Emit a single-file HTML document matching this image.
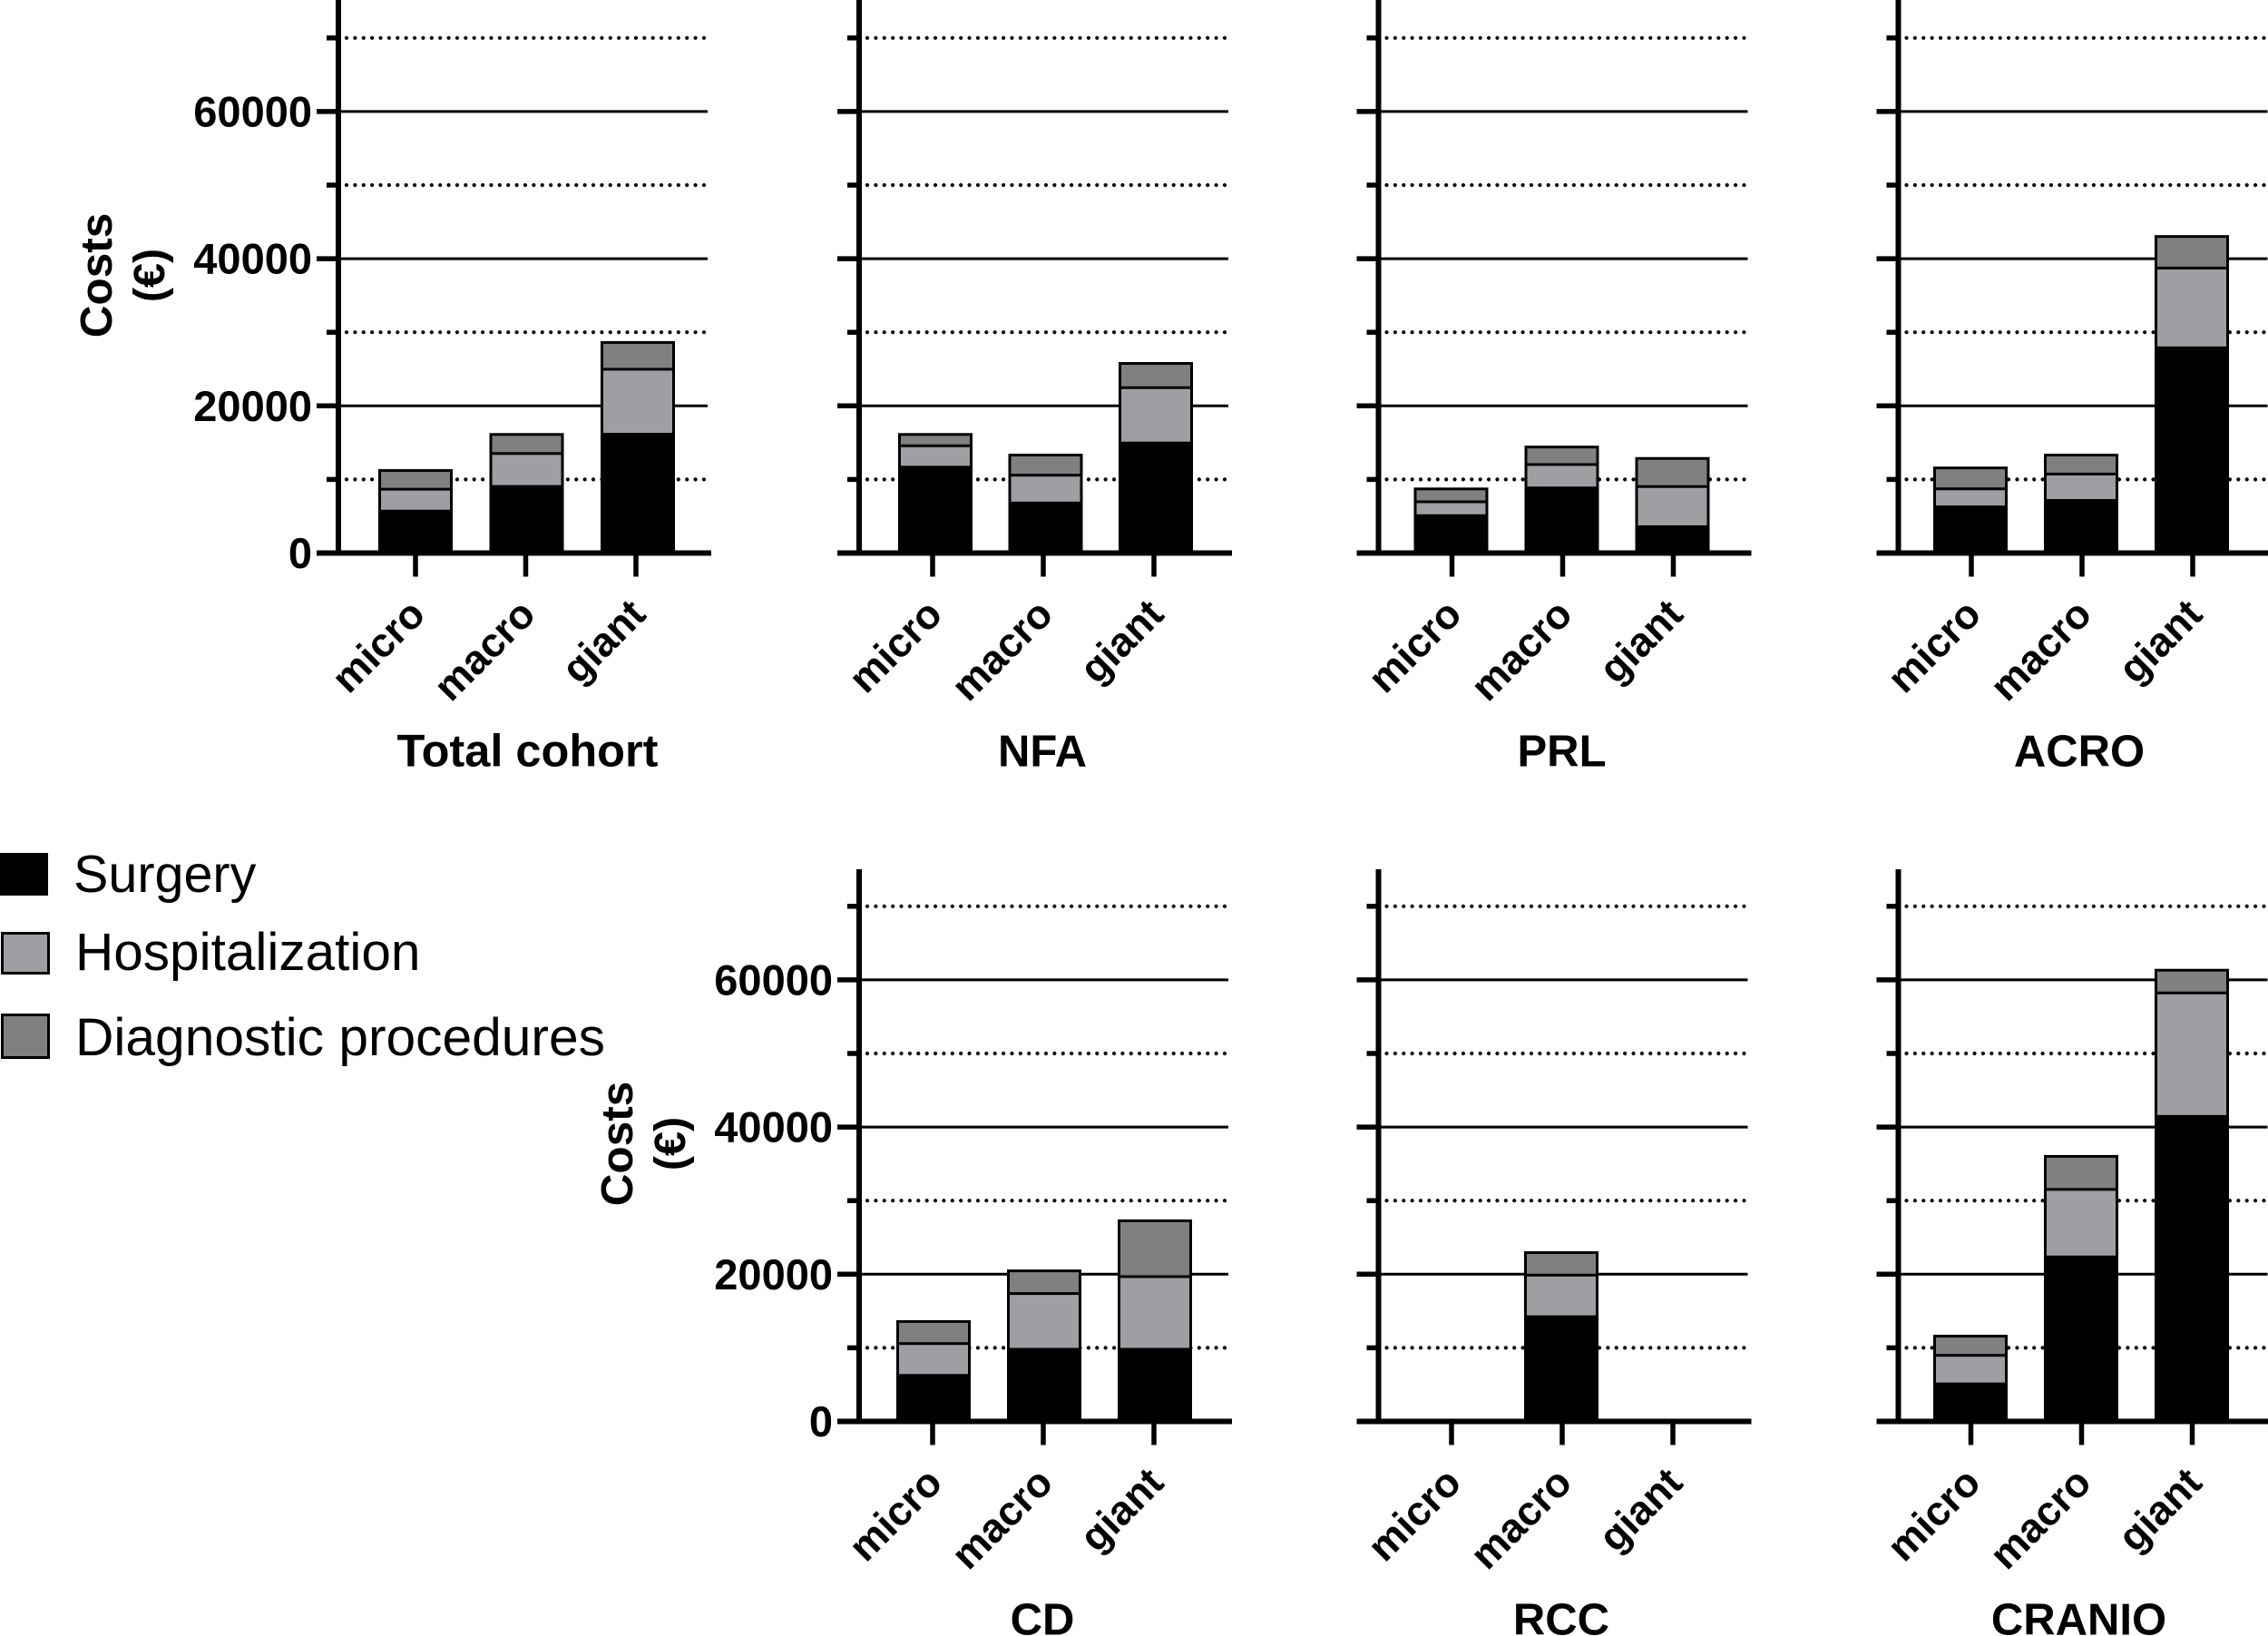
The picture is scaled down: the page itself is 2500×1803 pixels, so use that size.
<!DOCTYPE html>
<html lang="en">
<head>
<meta charset="utf-8">
<title>Costs by tumour size</title>
<style>
html,body{margin:0;padding:0;background:#fff;width:2500px;height:1803px;overflow:hidden}
svg{display:block;font-family:"Liberation Sans",Arial,sans-serif;fill:#000}
.bold{font-weight:700}
</style>
</head>
<body>
<svg id="chart" xmlns="http://www.w3.org/2000/svg" width="2500" height="1803" viewBox="0 0 2500 1803">
  <rect width="2500" height="1803" fill="#fff"/>
  <g id="panels"></g>
  <g>
    <g>
      <rect x="0" y="940" width="53" height="47" fill="#000"/>
      <text x="81" y="983" font-size="57.5">Surgery</text>
    </g>
    <g>
      <rect x="2.5" y="1028.5" width="51" height="44" fill="#9f9ea2" stroke="#000" stroke-width="3"/>
      <text x="83" y="1069" font-size="58.5">Hospitalization</text>
    </g>
    <g>
      <rect x="2.5" y="1118.5" width="51" height="47" fill="#808080" stroke="#000" stroke-width="3"/>
      <text x="83" y="1163" font-size="58.7">Diagnostic procedures</text>
    </g>
  </g>
</svg>
<script>
const categories = ['micro', 'macro', 'giant'];
const panelTitles = ['Total cohort', 'NFA', 'PRL', 'ACRO', 'CD', 'RCC', 'CRANIO'];
const majorTicks = [0, 20000, 40000, 60000];
const minorTicks = [10000, 30000, 50000, 70000];
const surgeryCosts = [
  [5700, 9050, 16150],
  [11670, 6800, 14950],
  [5080, 8850, 3580],
  [6270, 7150, 27890],
  [6250, 9800, 9800],
  [0, 14230, 0],
  [5100, 22350, 41450]
];
const hospitalizationCosts = [
  [3100, 4600, 8950],
  [3030, 3900, 7650],
  [2010, 3300, 5580],
  [2580, 3710, 10960],
  [4450, 7700, 10000],
  [0, 5770, 0],
  [4000, 9300, 16900]
];
const diagnosticCosts = [
  [2600, 2650, 3700],
  [1600, 2800, 3350],
  [1810, 2440, 3880],
  [2900, 2640, 4350],
  [3060, 3140, 7650],
  [0, 3130, 0],
  [2670, 4550, 3150]
];

const SVG_NS = 'http://www.w3.org/2000/svg';
const PX_PER_EURO = 81.1 / 10000;
const panelLayouts = [
  {axis: 373, base: 609.5, top: -20, barStart: 44, barStep: 122.5, tickStart: 85, tickStep: 121.5, yLabels: true, titleSize: 50.5, titleDx: 3},
  {axis: 947, base: 609.5, top: -20, barStart: 43, barStep: 121.5, tickStart: 81, tickStep: 122, yLabels: false, titleSize: 49, titleDx: 0},
  {axis: 1519.5, base: 609.5, top: -20, barStart: 39, barStep: 122, tickStart: 81, tickStep: 122, yLabels: false, titleSize: 49, titleDx: 0},
  {axis: 2092.5, base: 609.5, top: -20, barStart: 38.5, barStep: 122, tickStart: 80.5, tickStep: 122, yLabels: false, titleSize: 49, titleDx: -2},
  {axis: 947, base: 1566.5, top: 958, barStart: 41, barStep: 122, tickStart: 81, tickStep: 122, yLabels: true, titleSize: 49, titleDx: 0},
  {axis: 1519.5, base: 1566.5, top: 958, barStart: 38.5, barStep: 122, tickStart: 80.5, tickStep: 122, yLabels: false, titleSize: 49, titleDx: 0},
  {axis: 2092.5, base: 1566.5, top: 958, barStart: 38.5, barStep: 122, tickStart: 80, tickStep: 122, yLabels: false, titleSize: 49, titleDx: -2}
];
const BAR_WIDTH = 82;
const GRID_END = 407;
const AXIS_END = 411;

function yScale(layout, value) {
  return layout.base - value * PX_PER_EURO;
}
function barX(layout, i) {
  return layout.axis + layout.barStart + i * layout.barStep;
}
function tickX(layout, i) {
  return layout.axis + layout.tickStart + i * layout.tickStep;
}
function slug(s) {
  return s.toLowerCase().replace(/\s+/g, '-');
}
function make(tag, parent, props) {
  const el = document.createElementNS(SVG_NS, tag);
  for (const k in props) el.setAttribute(k, props[k]);
  parent.appendChild(el);
  return el;
}

const root = document.getElementById('panels');

panelTitles.forEach(function (title, p) {
  const L = panelLayouts[p];
  const name = slug(title);
  const g = make('g', root, {});
  
  

  minorTicks.forEach(function (v) {
    const y = yScale(L, v);
    const line = make('line', g, {x1: L.axis + 9, x2: L.axis + GRID_END - 2, y1: y, y2: y, stroke: '#000', 'stroke-width': 4.2, 'stroke-linecap': 'round', 'stroke-dasharray': '0 9.38'});
    
    
  });
  majorTicks.slice(1).forEach(function (v) {
    const y = yScale(L, v);
    const line = make('line', g, {x1: L.axis, x2: L.axis + GRID_END, y1: y, y2: y, stroke: '#000', 'stroke-width': 3});
    
    
  });

  categories.forEach(function (cat, i) {
    const x = barX(L, i);
    const s = surgeryCosts[p][i];
    const h = hospitalizationCosts[p][i];
    const d = diagnosticCosts[p][i];
    const y0 = yScale(L, 0);
    const y1 = yScale(L, s);
    const y2 = yScale(L, s + h);
    const y3 = yScale(L, s + h + d);
    const diag = make('rect', g, {x: x + 1.5, y: y3 + 1.5, width: BAR_WIDTH - 3, height: Math.max(0, y2 - y3), fill: '#808080', stroke: '#000', 'stroke-width': 3});
    
    
    const hosp = make('rect', g, {x: x + 1.5, y: y2 + 1, width: BAR_WIDTH - 3, height: Math.max(0, y1 - y2 - 1), fill: '#9f9ea2', stroke: '#000', 'stroke-width': 3});
    
    
    const surg = make('rect', g, {x: x, y: y1, width: BAR_WIDTH, height: Math.max(0, y0 - y1), fill: '#000'});
    
    
  });

  const yAxis = make('line', g, {x1: L.axis, x2: L.axis, y1: L.top, y2: L.base, stroke: '#000', 'stroke-width': 6});
  
  
  const xAxis = make('line', g, {x1: L.axis - 24, x2: L.axis + AXIS_END, y1: L.base, y2: L.base, stroke: '#000', 'stroke-width': 6});
  
  

  majorTicks.slice(1).forEach(function (v) {
    const y = yScale(L, v);
    const t = make('line', g, {x1: L.axis - 24, x2: L.axis, y1: y, y2: y, stroke: '#000', 'stroke-width': 5.5});
    
    
  });
  minorTicks.forEach(function (v) {
    const y = yScale(L, v);
    const t = make('line', g, {x1: L.axis - 13, x2: L.axis, y1: y, y2: y, stroke: '#000', 'stroke-width': 5.5});
    
    
  });

  if (L.yLabels) {
    majorTicks.forEach(function (v) {
      const lab = make('text', g, {x: L.axis - 29, y: yScale(L, v) + 16.5, 'text-anchor': 'end', 'font-size': 47, 'font-weight': 700});
      lab.textContent = String(v);
      
      
    });
    const cy = L.base - 306;
    const t1 = make('text', g, {transform: 'translate(' + (L.axis - 250) + ',' + cy + ') rotate(-90)', 'text-anchor': 'middle', 'font-size': 49.5, 'font-weight': 700});
    t1.textContent = 'Costs';
    
    
    const t2 = make('text', g, {transform: 'translate(' + (L.axis - 192) + ',' + cy + ') rotate(-90)', 'text-anchor': 'middle', 'font-size': 48.5, 'font-weight': 700});
    t2.textContent = '(€)';
    
    
  }

  categories.forEach(function (cat, i) {
    const x = tickX(L, i);
    const t = make('line', g, {x1: x, x2: x, y1: L.base, y2: L.base + 26, stroke: '#000', 'stroke-width': 5.5});
    
    
    const lab = make('text', g, {transform: 'translate(' + (x + 13) + ',' + (L.base + 70) + ') rotate(-45)', 'text-anchor': 'end', 'font-size': 45, 'font-weight': 700});
    lab.textContent = cat;
    
    
  });

  const tt = make('text', g, {x: tickX(L, 1) - 1 + L.titleDx, y: L.base + 235, 'text-anchor': 'middle', 'font-size': L.titleSize, 'font-weight': 700});
  tt.textContent = title;
  
  
});
</script>
</body>
</html>
